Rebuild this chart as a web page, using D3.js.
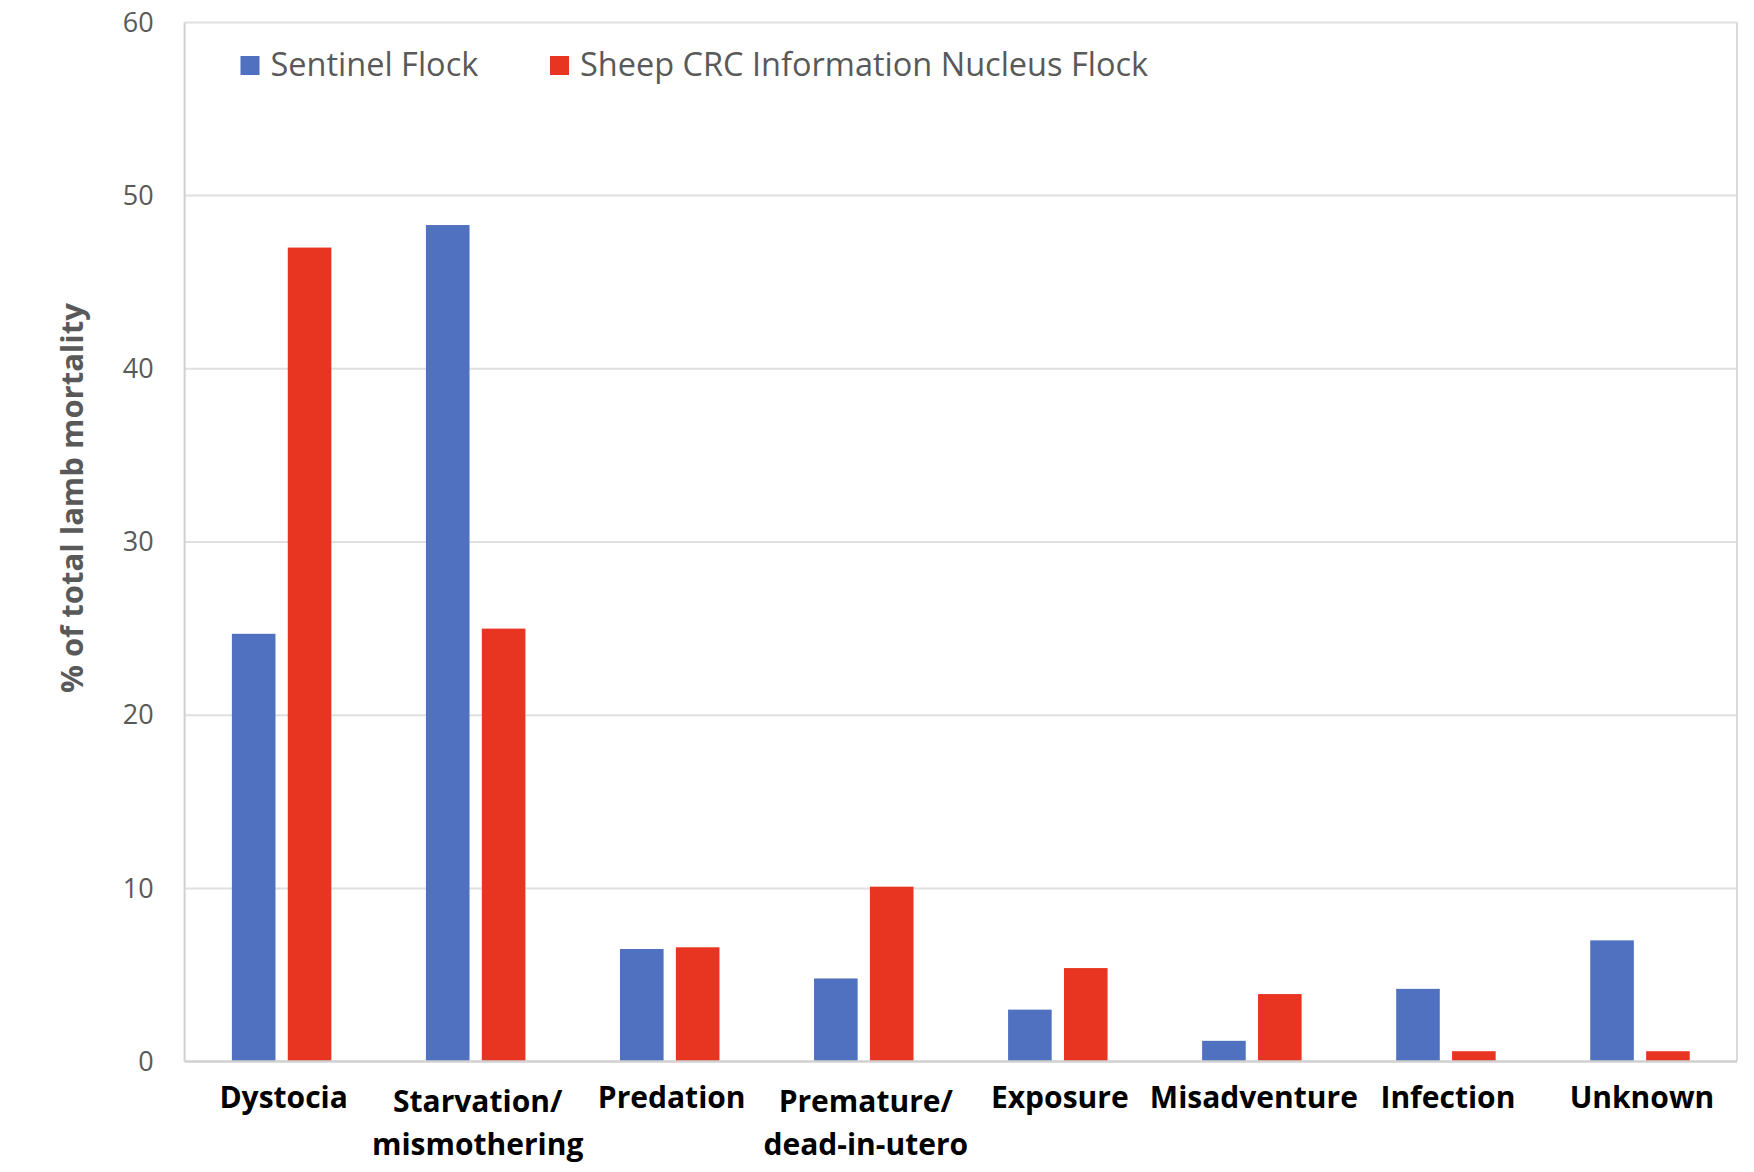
<!DOCTYPE html>
<html>
<head>
<meta charset="utf-8">
<script src="https://cdn.jsdelivr.net/npm/d3@7"></script>
<style>
  html, body { margin: 0; padding: 0; background: #fff; }
  svg { display: block; }
</style>
</head>
<body>
<svg id="chart" width="1754" height="1172"></svg>
<script>
const categories = [["Dystocia"], ["Starvation/", "mismothering"], ["Predation"], ["Premature/", "dead-in-utero"], ["Exposure"], ["Misadventure"], ["Infection"], ["Unknown"]];
const seriesNames = ["Sentinel Flock", "Sheep CRC Information Nucleus Flock"];
const sentinelValues = [24.7, 48.3, 6.5, 4.8, 3.0, 1.2, 4.2, 7.0];
const nucleusValues = [47.0, 25.0, 6.6, 10.1, 5.4, 3.9, 0.6, 0.6];
const yTicks = [0, 10, 20, 30, 40, 50, 60];
const colors = ["#4F71BF", "#E83522"];

const svg = d3.select("#chart");
const plot = { left: 184.6, right: 1737, top: 22.4, bottom: 1061.6 };
const catKeys = categories.map(c => c.join(" "));

const x0 = d3.scaleBand().domain(catKeys).range([plot.left, plot.right]).paddingInner(0).paddingOuter(0);
const x1 = d3.scaleBand().domain(seriesNames).range([0, x0.bandwidth()]).paddingInner(0.22).paddingOuter(0.846);
const y = d3.scaleLinear().domain([0, 60]).range([plot.bottom, plot.top]);

// gridlines
svg.append("g")
  .selectAll("line").data(yTicks.filter(t => t > 0)).join("line")
  .attr("x1", plot.left).attr("x2", plot.right)
  .attr("y1", d => y(d)).attr("y2", d => y(d))
  .attr("stroke", "#e0e0e0").attr("stroke-width", 2);

// plot border (left, right)
svg.append("line").attr("x1", plot.left).attr("x2", plot.left).attr("y1", plot.top).attr("y2", plot.bottom)
  .attr("stroke", "#d0d0d0").attr("stroke-width", 2);
svg.append("line").attr("x1", plot.right).attr("x2", plot.right).attr("y1", plot.top).attr("y2", plot.bottom)
  .attr("stroke", "#d9d9d9").attr("stroke-width", 2);

// y tick labels
const yAxis = d3.axisLeft(y).tickValues(yTicks).tickSize(0).tickPadding(31);
const gy = svg.append("g").attr("transform", `translate(${plot.left},0)`).call(yAxis);
gy.select(".domain").remove();
gy.selectAll("text").attr("font-family", "Open Sans, sans-serif").attr("font-size", 27).attr("fill", "#595959");

// bars
const data = catKeys.map((k, i) => ({ key: k, values: [sentinelValues[i], nucleusValues[i]] }));
const groups = svg.append("g").selectAll("g").data(data).join("g")
  .attr("transform", d => `translate(${x0(d.key)},0)`);
groups.selectAll("rect").data(d => d.values.map((v, j) => ({ s: seriesNames[j], v, j }))).join("rect")
  .attr("x", d => x1(d.s)).attr("width", x1.bandwidth())
  .attr("y", d => y(d.v)).attr("height", d => y(0) - y(d.v))
  .attr("fill", d => colors[d.j]);

// bottom axis line
svg.append("line").attr("x1", plot.left).attr("x2", plot.right).attr("y1", plot.bottom).attr("y2", plot.bottom)
  .attr("stroke", "#d0d0d0").attr("stroke-width", 2.5);

// x labels
const xl = svg.append("g").selectAll("text").data(categories).join("text")
  .attr("x", (d, i) => x0(catKeys[i]) + x0.bandwidth() / 2 + 2)
  .attr("y", d => d.length > 1 ? 1112 : 1108)
  .attr("text-anchor", "middle")
  .attr("font-family", "Open Sans, sans-serif").attr("font-weight", "bold")
  .attr("font-size", 30).attr("fill", "#000");
xl.selectAll("tspan").data(d => d).join("tspan")
  .attr("x", function() { return d3.select(this.parentNode).attr("x"); })
  .attr("dy", (d, i) => i === 0 ? 0 : 43)
  .text(d => d);

// y axis title
svg.append("text")
  .attr("transform", `translate(83,498) rotate(-90)`)
  .attr("text-anchor", "middle")
  .attr("font-family", "Open Sans, sans-serif").attr("font-weight", "bold")
  .attr("font-size", 31).attr("fill", "#595959")
  .text("% of total lamb mortality");

// legend
const legendX = [240.5, 550];
const lg = svg.append("g").selectAll("g").data(seriesNames).join("g")
  .attr("transform", (d, i) => `translate(${legendX[i]},56)`);
lg.append("rect").attr("width", 19).attr("height", 19).attr("fill", (d, i) => colors[i]);
lg.append("text").attr("x", 30).attr("y", 20)
  .attr("font-family", "Open Sans, sans-serif").attr("font-size", 32.5).attr("fill", "#595959")
  .text(d => d);
</script>
</body>
</html>
